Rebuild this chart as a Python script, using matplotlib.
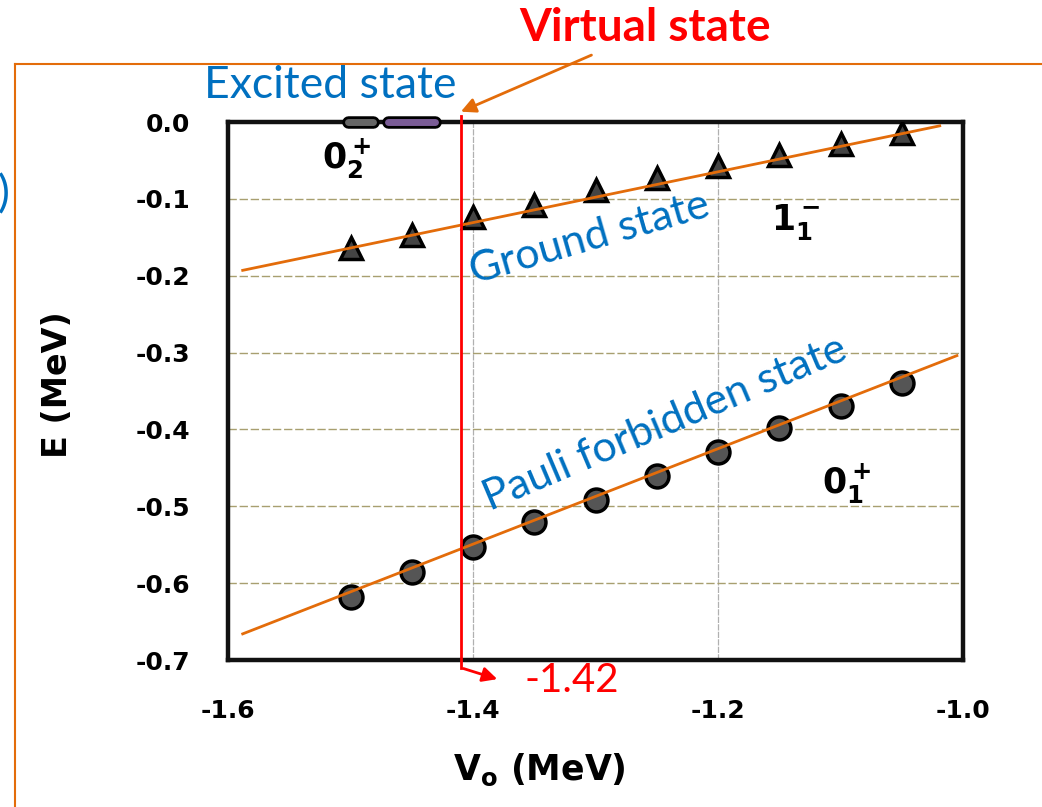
import matplotlib.pyplot as plt
from matplotlib.lines import Line2D

plt.rcParams["font.family"] = ["DejaVu Sans"]
plt.rcParams["mathtext.fontset"] = "dejavusans"

# potential depth V0 (MeV)
v0 = [-1.50, -1.45, -1.40, -1.35, -1.30, -1.25, -1.20, -1.15, -1.10, -1.05]
# 1_1^- ground state energies (triangles)
e_ground = [-0.164, -0.147, -0.124, -0.108, -0.088, -0.073, -0.057, -0.043, -0.029, -0.014]
# 0_1^+ Pauli forbidden state energies (circles)
e_pauli = [-0.618, -0.585, -0.553, -0.520, -0.492, -0.461, -0.429, -0.398, -0.370, -0.340]

# fitted straight lines (end points)
fit_ground_x = [-1.588, -1.019]
fit_ground_y = [-0.193, -0.005]
fit_pauli_x = [-1.588, -1.005]
fit_pauli_y = [-0.666, -0.304]

# excited state (0_2^+) segments on E = 0
excited_gray = [-1.502, -1.482]
excited_purple = [-1.469, -1.431]

v_virtual = -1.41
xticks = [-1.6, -1.4, -1.2, -1.0]
yticks = [0.0, -0.1, -0.2, -0.3, -0.4, -0.5, -0.6, -0.7]

orange = "#E36C0A"
blue = "#0070C0"
red = "#FF0000"
hand = ["Lato", "DejaVu Sans"]

fig = plt.figure(figsize=(10.42, 8.07), dpi=100)
ax = fig.add_axes([228 / 1042, 147 / 807, 735 / 1042, 538 / 807])

ax.set_xlim(-1.6, -1.0)
ax.set_ylim(-0.7, 0.0)
ax.set_xticks(xticks)
ax.set_yticks(yticks)
ax.set_xticklabels([f"{t:.1f}" for t in xticks])
ax.set_yticklabels([f"{t:.1f}" for t in yticks])
ax.tick_params(length=0, labelsize=18)
ax.tick_params(axis="x", pad=28)
ax.tick_params(axis="y", pad=27)
for lab in ax.get_xticklabels() + ax.get_yticklabels():
    lab.set_fontweight("bold")
for s in ax.spines.values():
    s.set_linewidth(3.2)
    s.set_color("#111111")

ax.yaxis.grid(True, color="#a89f70", linestyle=(0, (6, 2)), linewidth=1.0)
ax.xaxis.grid(True, color="#b0b0b0", linestyle=(0, (5, 1)), linewidth=0.9)
ax.set_axisbelow(True)

ax.plot(fit_ground_x, fit_ground_y, color=orange, lw=2, zorder=4)
ax.plot(fit_pauli_x, fit_pauli_y, color=orange, lw=2, zorder=4)
ax.plot(v0, e_ground, linestyle="none", marker="^", markersize=16,
        markerfacecolor="#444444", markeredgecolor="black", markeredgewidth=2.5, zorder=3)
ax.plot(v0, e_pauli, linestyle="none", marker="o", markersize=16.5,
        markerfacecolor="#555555", markeredgecolor="black", markeredgewidth=2.5, zorder=3)

# excited state marks on the top border
for seg, col in [(excited_gray, "#666666"), (excited_purple, "#7a5c96")]:
    ax.plot(seg, [0, 0], color="black", lw=9, solid_capstyle="round", clip_on=False, zorder=6)
    ax.plot(seg, [0, 0], color=col, lw=5, solid_capstyle="round", clip_on=False, zorder=7)

# virtual state vertical line with arrow
ax.plot([v_virtual, v_virtual], [0.008, -0.710], color=red, lw=2, clip_on=False, zorder=8)
ax.annotate("", xy=(-1.378, -0.726), xytext=(v_virtual, -0.710),
            arrowprops=dict(arrowstyle="-|>", color=red, lw=2, mutation_scale=22),
            annotation_clip=False)
ax.text(-1.319, -0.727, "-1.42", color=red, fontsize=29, family=hand,
        ha="center", va="center")

# state labels
ax.text(-1.503, -0.048, r"$\mathbf{0_2^+}$", fontsize=25, ha="center", va="center")
ax.text(-1.137, -0.130, r"$\mathbf{1_1^-}$", fontsize=25, ha="center", va="center")
ax.text(-1.095, -0.470, r"$\mathbf{0_1^+}$", fontsize=25, ha="center", va="center")

ax.text(-1.3045, -0.151, "Ground state", color=blue, fontsize=31, family=hand,
        rotation=16, rotation_mode="anchor", ha="center", va="center")
ax.text(-1.243, -0.392, "Pauli forbidden state", color=blue, fontsize=31, family=hand,
        rotation=23, rotation_mode="anchor", ha="center", va="center")

# axis titles
ax.text(0.424, -0.204, r"$\mathbf{V_o}$" + " (MeV)", fontsize=25, fontweight="bold",
        transform=ax.transAxes, ha="center", va="center")
ax.text(-0.232, 0.511, "E (MeV)", fontsize=24, fontweight="bold", rotation=90,
        transform=ax.transAxes, ha="center", va="center")

# slide decorations in figure coordinates
fig.add_artist(Line2D([15 / 1042, 1.0], [1 - 64 / 807, 1 - 64 / 807], color=orange, lw=1.5))
fig.add_artist(Line2D([15 / 1042, 15 / 1042], [0.0, 1 - 64 / 807], color=orange, lw=1.5))
fig.text(645 / 1042, 1 - 28 / 807, "Virtual state", color=red, fontsize=33,
         fontweight="bold", family=hand, ha="center", va="center")
fig.text(330 / 1042, 1 - 86 / 807, "Excited state", color=blue, fontsize=32,
         family=hand, ha="center", va="center")
fig.text(-2 / 1042, 1 - 195 / 807, ")", color=blue, fontsize=32, family=hand,
         ha="left", va="center")
ax.annotate("", xy=(-1.412, 0.012), xytext=(594 / 1042, 1 - 54 / 807),
            textcoords="figure fraction",
            arrowprops=dict(arrowstyle="-|>", color=orange, lw=2, mutation_scale=22),
            annotation_clip=False)

fig.savefig("out.png", dpi=100)
